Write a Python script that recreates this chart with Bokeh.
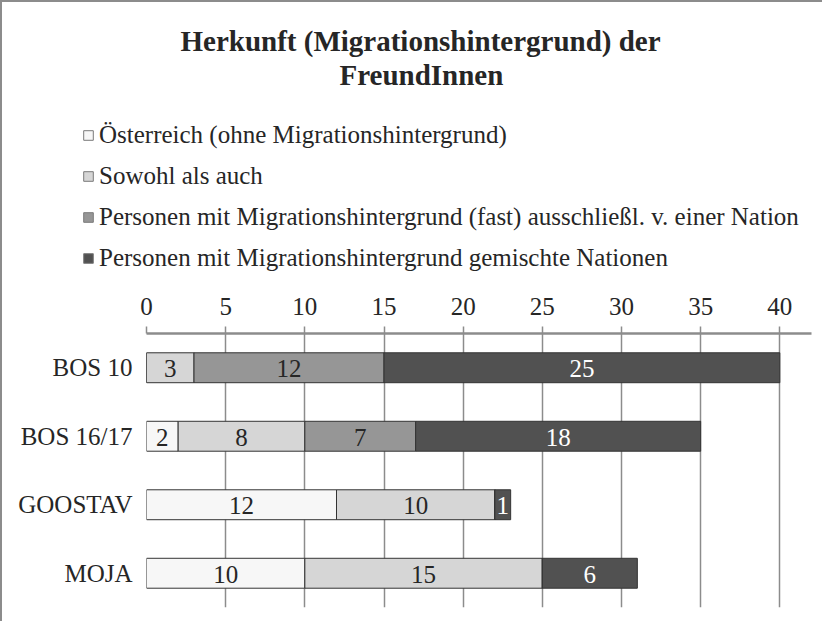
from bokeh.plotting import figure
from bokeh.layouts import column
from bokeh.models import (Range1d, FactorRange, FixedTicker, Legend, LegendItem,
                          ColumnDataSource, Title)
from bokeh.core.properties import value
from bokeh.embed import file_html
from bokeh.resources import INLINE

# ---- data ----
categories = ["BOS 10", "BOS 16/17", "GOOSTAV", "MOJA"]
oesterreich = [0, 2, 12, 10]
sowohl = [3, 8, 10, 15]
eine_nation = [12, 7, 0, 0]
gemischt = [25, 18, 1, 6]
series_keys = ["oesterreich", "sowohl", "eine_nation", "gemischt"]
series_labels = ["Österreich (ohne Migrationshintergrund)",
                 "Sowohl als auch",
                 "Personen mit Migrationshintergrund (fast) ausschließl. v. einer Nation",
                 "Personen mit Migrationshintergrund gemischte Nationen"]
series_colors = ["#f7f7f7", "#d6d6d6", "#969696", "#515151"]
label_colors = ["#262626", "#262626", "#262626", "#ffffff"]
x_ticks = [0, 5, 10, 15, 20, 25, 30, 35, 40]
title_lines = ["Herkunft (Migrationshintergrund) der", "FreundInnen"]

FONT = "Liberation Serif"
FS = "25px"
TXT = "#262626"

source = ColumnDataSource(data=dict(cat=categories, oesterreich=oesterreich, sowohl=sowohl,
                                    eine_nation=eine_nation, gemischt=gemischt))

# ---------- top part: title + legend ----------
top = figure(width=820, height=281, output_backend="svg", toolbar_location=None,
             x_range=Range1d(0, 42), y_range=FactorRange(factors=list(reversed(categories))),
             x_axis_type=None, y_axis_type=None,
             min_border_left=0, min_border_right=0, min_border_bottom=0, min_border_top=88)
top.outline_line_color = None
top.grid.visible = False

# legend proxies (hidden renderers sharing the real data)
legend_renderers = top.hbar_stack(series_keys, y="cat", height=0.437, color=series_colors,
                                  line_color="#7a7a7a", line_width=1, source=source)
for r in legend_renderers:
    r.visible = False
legend = Legend(items=[LegendItem(label=lab, renderers=[r])
                       for lab, r in zip(series_labels, legend_renderers)],
                location=(80, 11), margin=0, padding=0, spacing=13,
                glyph_width=12, glyph_height=12, label_standoff=5,
                label_text_font=FONT, label_text_font_size=FS, label_text_color=TXT,
                background_fill_alpha=0, border_line_color=None,
                inactive_fill_alpha=0)
top.add_layout(legend, "center")

top.title.text = title_lines[0]
top.title.align = "left"
top.title.offset = 178
top.title.text_font = FONT
top.title.text_font_size = "29px"
top.title.text_font_style = "bold"
top.title.text_color = TXT
top.title.standoff = 0
top.add_layout(Title(text=title_lines[1], align="left", offset=337, text_font=FONT,
                     text_font_size="29px", text_font_style="bold", text_color=TXT,
                     standoff=0), "above")

# ---------- bottom part: bars ----------
p = figure(width=820, height=338, output_backend="svg", toolbar_location=None,
           x_range=Range1d(0, 42), y_range=FactorRange(factors=list(reversed(categories))),
           x_axis_location="above",
           min_border_left=144, min_border_right=11, min_border_bottom=14, min_border_top=50)
p.y_range.range_padding = 0
p.outline_line_color = None

if "frame_align" in top.properties():
    top.frame_align = False
    p.frame_align = False

p.hbar_stack(series_keys, y="cat", height=0.437, color=series_colors,
             line_color="#333333", line_width=1, source=source)

# bar value labels computed from the data
lx, ly, lt, lc = [], [], [], []
all_series = [oesterreich, sowohl, eine_nation, gemischt]
for i, c in enumerate(categories):
    left = 0
    for j, s in enumerate(all_series):
        v = s[i]
        if v > 0:
            lx.append(left + v / 2)
            ly.append(c)
            lt.append(str(v))
            lc.append(label_colors[j])
        left += v
p.text(x=lx, y=ly, text=lt, text_color=lc, text_align="center", text_baseline="middle",
       text_font=value(FONT), text_font_size=FS, y_offset=1)

xa = p.xaxis[0]
xa.ticker = FixedTicker(ticks=x_ticks)
xa.axis_line_color = "#8c8c8c"
xa.axis_line_width = 2.5
xa.major_tick_line_color = "#8c8c8c"
xa.major_tick_line_width = 1.5
xa.major_tick_out = 7
xa.major_tick_in = 0
xa.minor_tick_line_color = None
xa.major_label_text_font = FONT
xa.major_label_text_font_size = FS
xa.major_label_text_color = TXT
xa.major_label_standoff = 12

ya = p.yaxis[0]
ya.axis_line_color = None
ya.major_tick_line_color = None
ya.minor_tick_line_color = None
ya.major_label_text_font = FONT
ya.major_label_text_font_size = FS
ya.major_label_text_color = TXT
ya.major_label_standoff = 8

p.xgrid.ticker = FixedTicker(ticks=x_ticks)
p.xgrid.grid_line_color = "#8c8c8c"
p.xgrid.grid_line_width = 1.5
p.ygrid.grid_line_color = None

layout = column(top, p, spacing=0,
                styles={"border-left": "2px solid #8c8c8c", "border-top": "2px solid #8c8c8c"})

open("out.html", "w").write(file_html(layout, INLINE))
